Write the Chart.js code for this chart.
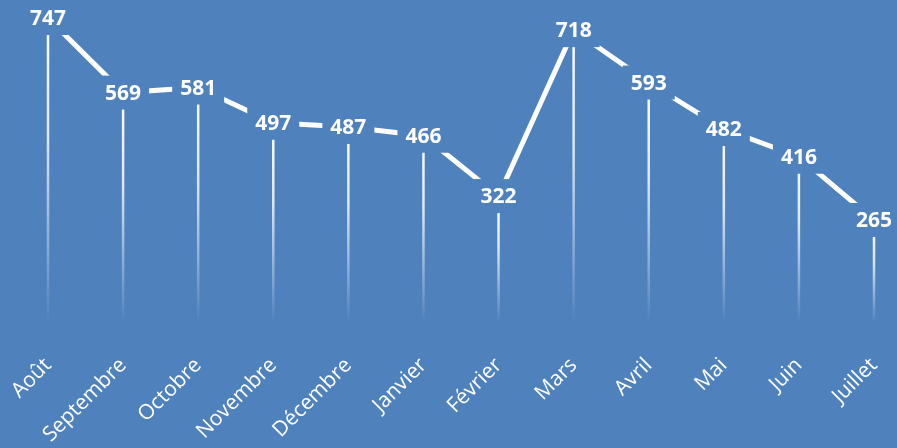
<!DOCTYPE html>
<html>
<head>
<meta charset="utf-8">
<script src="https://cdn.jsdelivr.net/npm/chart.js@4/dist/chart.umd.min.js"></script>
<style>
html,body{margin:0;padding:0;background:#4F81BD;}
#c{display:block;}
</style>
</head>
<body>
<canvas id="c" width="897" height="448"></canvas>
<script>
const categories = ["Août","Septembre","Octobre","Novembre","Décembre","Janvier","Février","Mars","Avril","Mai","Juin","Juillet"];
const values = [747,569,581,497,487,466,322,718,593,482,416,265];

const BG = '#4F81BD';

const bgPlugin = {
  id: 'bg',
  beforeDraw(chart){
    const ctx = chart.ctx;
    ctx.save();
    ctx.fillStyle = BG;
    ctx.fillRect(0,0,chart.width,chart.height);
    ctx.restore();
  }
};

const dropLines = {
  id: 'dropLines',
  beforeDatasetsDraw(chart){
    const ctx = chart.ctx;
    const meta = chart.getDatasetMeta(0);
    const bottom = chart.chartArea.bottom;
    ctx.save();
    meta.data.forEach(pt => {
      const g = ctx.createLinearGradient(0, pt.y, 0, bottom - 8);
      g.addColorStop(0, 'rgba(255,255,255,1)');
      g.addColorStop(0.4, 'rgba(255,255,255,0.8)');
      g.addColorStop(1, 'rgba(255,255,255,0)');
      ctx.strokeStyle = g;
      ctx.lineWidth = 2.5;
      ctx.beginPath();
      ctx.moveTo(pt.x, pt.y);
      ctx.lineTo(pt.x, bottom - 8);
      ctx.stroke();
    });
    ctx.restore();
  }
};

const labelsPlugin = {
  id: 'valLabels',
  afterDatasetsDraw(chart){
    const ctx = chart.ctx;
    const meta = chart.getDatasetMeta(0);
    ctx.save();
    ctx.font = 'bold 21px "Open Sans"';
    ctx.textAlign = 'center';
    ctx.textBaseline = 'middle';
    meta.data.forEach((pt,i) => {
      const t = String(values[i]);
      const w = ctx.measureText(t).width + 16;
      const h = 34;
      ctx.fillStyle = BG;
      ctx.fillRect(pt.x - w/2, pt.y - h/2, w, h);
      ctx.fillStyle = '#FFFFFF';
      ctx.fillText(t, pt.x, pt.y + 1);
    });
    ctx.restore();
  }
};

new Chart(document.getElementById('c'), {
  type: 'line',
  data: {
    labels: categories,
    datasets: [{
      data: values,
      borderColor: '#FFFFFF',
      borderWidth: 5,
      pointRadius: 0,
      tension: 0,
      clip: false,
      fill: false
    }]
  },
  options: {
    responsive: false,
    animation: false,
    devicePixelRatio: 1,
    layout: { padding: { top: 18, left: 48, right: 23, bottom: 0 } },
    plugins: { legend: { display: false }, tooltip: { enabled: false } },
    scales: {
      y: { display: false, min: 0, max: Math.max(...values) },
      x: {
        offset: false,
        grid: { display: false },
        border: { display: false },
        afterFit(scale){ scale.height = 117; scale.paddingLeft = 0; scale.paddingRight = 0; },
        ticks: {
          autoSkip: false,
          minRotation: 45,
          maxRotation: 45,
          padding: 14,
          color: '#FFFFFF',
          font: { family: '"Open Sans"', size: 21 }
        }
      }
    }
  },
  plugins: [bgPlugin, dropLines, labelsPlugin]
});
</script>
</body>
</html>
